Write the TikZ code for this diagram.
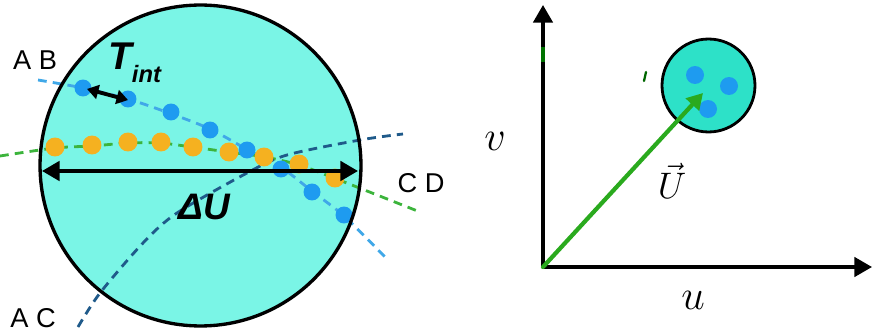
\documentclass[tikz,border=0pt]{standalone}
\usepackage{fontspec}
\setmainfont{Liberation Sans}
\usepackage{fix-cm}
\usetikzlibrary{arrows.meta}
\definecolor{diskfill}{RGB}{122,245,230}
\definecolor{smallfill}{RGB}{45,225,200}
\definecolor{dotblue}{RGB}{30,155,240}
\definecolor{dotorange}{RGB}{245,177,32}
\definecolor{trackab}{RGB}{64,168,232}
\definecolor{trackcd}{RGB}{60,180,60}
\definecolor{trackac}{RGB}{31,90,138}
\definecolor{vecgreen}{RGB}{42,170,30}
\begin{document}
\begin{tikzpicture}[x=0.02cm, y=-0.02cm, line join=round, line cap=round,
	track/.style={line width=1.6pt, dash pattern=on 5pt off 3.5pt, line cap=butt},
	lbl/.style={font=\fontsize{15.5}{18}\selectfont, inner sep=1pt},
	>={Triangle[length=10pt,width=11pt]}]
	\useasboundingbox (0,0) rectangle (873,331);
	% left: the disk with the tracks
	\fill[diskfill] (200.5,165.5) circle (3.21cm);
	\draw[track, trackab] plot[smooth] coordinates {(38,80) (83,88) (128,99) (169,113) (210,129) (248,150) (282,168) (313,192) (344,216) (385,257)};
	\draw[track, trackcd] plot[smooth] coordinates {(0,156) (55,148) (92,146) (128,143) (160,143) (192,147) (228,152) (265,157) (299,165) (334,178) (420,212)};
	\draw[track, trackac] plot[smooth] coordinates {(78,327) (100,293) (143,243) (177,213) (247,173) (287,155) (360,140) (403,134)};
	\foreach \p in {(55,147),(92,145),(128,142),(161,142),(193,147),(229,152),(264,157),(299,164),(335,178)}
		\fill[dotorange] \p circle (0.19cm);
	\foreach \p in {(83,88),(128,99),(171,112),(210,130),(247,150),(281,169),(312,192),(344,215)}
		\fill[dotblue] \p circle (0.17cm);
	\draw[line width=1.9pt] (200.5,165.5) circle (3.21cm);
	\coordinate (dUl) at (42,171);
	\coordinate (dUr) at (358,171);
	\draw[<->, line width=2.2pt] (dUl) -- (dUr);
	\node (dU) at (204,207) {\fontsize{21}{24}\selectfont\bfseries\itshape ΔU};
	\coordinate (Ta) at (87,89);
	\coordinate (Tb) at (128,100);
	\draw[<->, line width=2.2pt, >={Triangle[length=6.5pt,width=8pt]}] (Ta) -- (Tb);
	\node[anchor=base west, inner sep=0pt] (tint) at (108,70) {\fontsize{22}{26}\selectfont\bfseries\itshape T\raisebox{-7pt}{\fontsize{13.5}{16}\selectfont int}};
	\node[lbl] (ab) at (35,60) {A B};
	\node[lbl] (cd) at (421,183) {C D};
	\node[lbl] (ac) at (33,318) {A C};
	% right: velocity plane
	\coordinate (O) at (543,267);
	\coordinate (vtip) at (543,5);
	\coordinate (utip) at (872,267);
	\draw[->, line width=1.9pt] (O) -- (vtip);
	\draw[->, line width=1.9pt] (O) -- (utip);
	\draw[line width=2.2pt, green!45!black, line cap=butt] (543,47) -- (543,62);
	\draw[line width=1.3pt, green!40!black] (646,72) -- (644,81);
	\filldraw[fill=smallfill, line width=1.6pt] (708.5,85.5) circle (0.93cm);
	\foreach \p in {(695,75),(729,86),(708,109)}
		\fill[dotblue] \p circle (0.18cm);
	\coordinate (U) at (703,93);
	\draw[->, vecgreen, line width=2.4pt, >={Triangle[length=9pt,width=10pt]}] (O) -- (U);
	\node (v) at (495,141) {\fontsize{24}{28}\selectfont $v$};
	\node (u) at (693,300) {\fontsize{24}{28}\selectfont $u$};
	\node (Uvec) at (672,181) {\fontsize{21}{24}\selectfont $\vec{U}$};
\end{tikzpicture}
\end{document}
